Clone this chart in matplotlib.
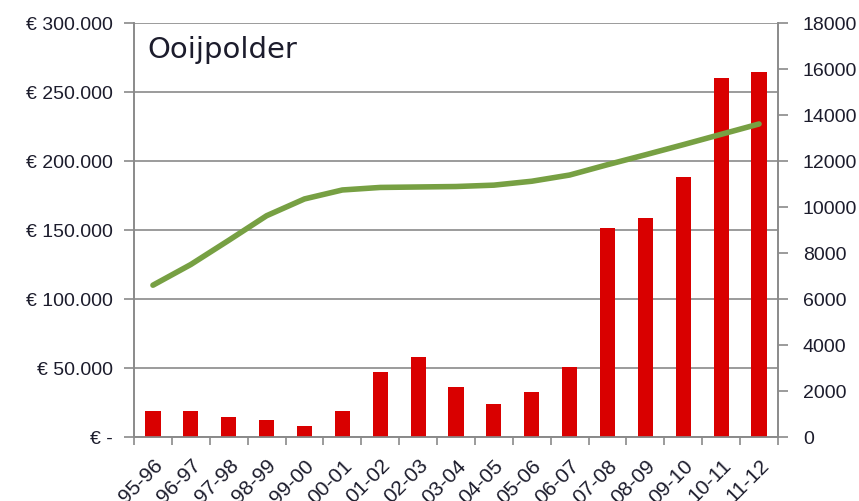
import numpy as np
import matplotlib.pyplot as plt
import matplotlib.transforms as mtransforms
from matplotlib.ticker import FuncFormatter

plt.rcParams['font.family'] = ['Liberation Sans', 'DejaVu Sans']

# ------------------------------------------------------------
# data
# ------------------------------------------------------------
seasons = ["95-96", "96-97", "97-98", "98-99", "99-00", "00-01", "01-02", "02-03",
           "03-04", "04-05", "05-06", "06-07", "07-08", "08-09", "09-10", "10-11", "11-12"]
euro_values = [19000, 19000, 14300, 12500, 8000, 18600, 47300, 58200,
               36400, 23900, 32800, 50900, 151200, 158500, 188600, 260400, 264200]
line_values = [6600, 7500, 8550, 9620, 10350, 10740, 10850, 10870,
               10890, 10950, 11120, 11390, 11840, 12270, 12710, 13160, 13610]

BAR_COLOR = "#d90000"
LINE_COLOR = "#77a043"
GRID_COLOR = "#8a8a8a"
TEXT_COLOR = "#1c1c2c"

fig = plt.figure(figsize=(8.59, 5.02), dpi=100)
ax = fig.add_axes([0.156, 0.1275, 0.7497, 0.8247])
ax2 = ax.twinx()

x = np.arange(len(seasons))

ax.bar(x, euro_values, width=0.4, color=BAR_COLOR, zorder=3)
ax2.plot(x, line_values, color=LINE_COLOR, linewidth=4, solid_capstyle='round', zorder=4)

# left axis
ax.set_xlim(-0.5, len(seasons) - 0.5)
ax.set_ylim(0, 300000)
ax.set_yticks(np.arange(0, 300001, 50000))

def euro_fmt(v, pos):
    if v == 0:
        return "€ -"
    return "€ " + f"{int(v):,}".replace(",", ".")

ax.yaxis.set_major_formatter(FuncFormatter(euro_fmt))
ax.grid(axis='y', color=GRID_COLOR, linewidth=1.2, zorder=0)
ax.set_axisbelow(True)

# right axis
ax2.set_ylim(0, 18000)
ax2.set_yticks(np.arange(0, 18001, 2000))

# x ticks at category boundaries, labels at centres
ax.set_xticks(np.arange(-0.5, len(seasons), 1.0))
ax.set_xticklabels([])
ax.set_xticks(x, minor=True)
ax.set_xticklabels(seasons, minor=True, rotation=45, ha='right', va='top',
                   rotation_mode='anchor', fontsize=15)
ax.tick_params(axis='x', which='minor', length=0, pad=13)
shift = mtransforms.ScaledTranslation(5 / 100, 0, fig.dpi_scale_trans)
for lbl in ax.get_xticklabels(minor=True):
    lbl.set_transform(lbl.get_transform() + shift)

for a in (ax, ax2):
    a.spines["top"].set_visible(False)
    for side in ("left", "right", "bottom"):
        a.spines[side].set_color(GRID_COLOR)
        a.spines[side].set_linewidth(1.2)
    a.tick_params(which='both', colors=GRID_COLOR, labelcolor=TEXT_COLOR, width=1.2)
    a.tick_params(axis='y', labelsize=14)
ax.tick_params(axis='y', length=7, pad=8)
ax.tick_params(axis='x', which='major', length=6)
ax2.tick_params(axis='y', length=7, pad=11)

ax.text(0.02, 0.97, "Ooijpolder", transform=ax.transAxes, fontsize=21,
        color=TEXT_COLOR, va='top', ha='left', family=['DejaVu Sans'])

fig.savefig("out.png", dpi=100)
